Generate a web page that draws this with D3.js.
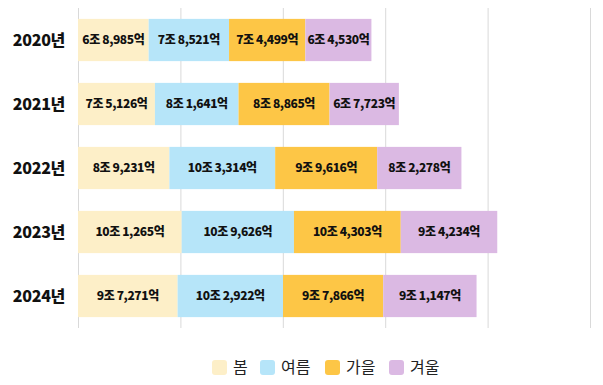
<!DOCTYPE html>
<html>
<head>
<meta charset="utf-8">
<style>
    body { margin: 0; background: #fff; }
    svg text { font-family: "Noto Sans CJK KR", "Noto Sans", sans-serif; }
</style>
</head>
<body>
    <div id="chart"></div>

    <script src="https://d3js.org/d3.v7.min.js"></script>
    <script type="text/javascript">
        // 연도별 계절 매출 (단위: 조원)
        var years = ["2020년", "2021년", "2022년", "2023년", "2024년"];
        var seasons = ["봄", "여름", "가을", "겨울"];
        var spring = [6.8985, 7.5126, 8.9231, 10.1265, 9.7271];
        var summer = [7.8521, 8.1641, 10.3314, 10.9626, 10.2922];
        var autumn = [7.4499, 8.8865, 9.9616, 10.4303, 9.7866];
        var winter = [6.4530, 6.7723, 8.2278, 9.4234, 9.1147];
        var gridTicks = [0, 10, 20, 30, 40, 50];
        var colors = ["#fdefc8", "#b6e5f9", "#fdc646", "#dbb9e3"];

        var w = 603;
        var h = 385;

        var rows = years.map(function (y, i) {
            return { year: y, "봄": spring[i], "여름": summer[i], "가을": autumn[i], "겨울": winter[i] };
        });

        var stacked = d3.stack().keys(seasons)(rows);

        var x = d3.scaleLinear().domain([0, 50]).range([78, 590]);
        var y = d3.scaleBand().domain(years).range([8, 328])
            .paddingInner(0.34).paddingOuter(0.17);
        var color = d3.scaleOrdinal().domain(seasons).range(colors);

        // 조/억 표기
        function fmt(v) {
            var jo = Math.floor(v + 1e-9);
            var eok = Math.round((v - jo) * 10000);
            return jo + "조 " + d3.format(",")(eok) + "억";
        }

        var svg = d3.select('#chart')
            .append('svg')
            .attr('width', w)
            .attr('height', h);

        // grid
        svg.append('g')
            .selectAll('line')
            .data(gridTicks)
            .enter()
            .append('line')
            .attr('x1', function (d) { return x(d) + 0.5; })
            .attr('x2', function (d) { return x(d) + 0.5; })
            .attr('y1', 8)
            .attr('y2', 328)
            .attr('stroke', '#d9d9d9')
            .attr('stroke-width', 1);

        var layer = svg.append('g')
            .selectAll('g')
            .data(stacked)
            .enter()
            .append('g')
            .attr('fill', function (d) { return color(d.key); });

        layer.selectAll('rect')
            .data(function (d) { return d; })
            .enter()
            .append('rect')
            .attr('x', function (d) { return x(d[0]); })
            .attr('width', function (d) { return x(d[1]) - x(d[0]); })
            .attr('y', function (d) { return y(d.data.year); })
            .attr('height', y.bandwidth());

        layer.selectAll('text')
            .data(function (d) { return d; })
            .enter()
            .append('text')
            .attr('x', function (d) { return (x(d[0]) + x(d[1])) / 2; })
            .attr('y', function (d) { return y(d.data.year) + y.bandwidth() / 2; })
            .attr('dy', '0.35em')
            .attr('text-anchor', 'middle')
            .attr('fill', '#111')
            .attr('font-size', '12px')
            .attr('font-weight', 900)
            .attr('letter-spacing', '-0.4px')
            .text(function (d) { return fmt(d[1] - d[0]); });

        // year labels
        svg.append('g')
            .selectAll('text')
            .data(years)
            .enter()
            .append('text')
            .attr('x', 65)
            .attr('y', function (d) { return y(d) + y.bandwidth() / 2; })
            .attr('dy', '0.35em')
            .attr('text-anchor', 'end')
            .attr('font-size', '16px')
            .attr('font-weight', 900)
            .attr('letter-spacing', '-0.3px')
            .attr('fill', '#111')
            .text(function (d) { return d; });

        // legend
        var legendX = [212, 260, 325, 389];
        var legend = svg.append('g')
            .selectAll('g')
            .data(seasons)
            .enter()
            .append('g')
            .attr('transform', function (d, i) { return 'translate(' + legendX[i] + ',360)'; });

        legend.append('rect')
            .attr('width', 15)
            .attr('height', 15)
            .attr('rx', 3)
            .attr('fill', function (d) { return color(d); });

        legend.append('text')
            .attr('x', 21)
            .attr('y', 7.5)
            .attr('dy', '0.35em')
            .attr('font-size', '16px')
            .attr('fill', '#222')
            .text(function (d) { return d; });
    </script>
</body>
</html>
